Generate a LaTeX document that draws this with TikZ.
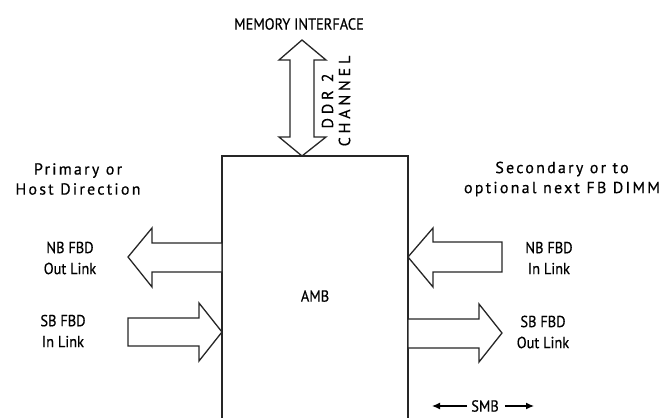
\documentclass[tikz,border=0pt]{standalone}
\usepackage{fontspec}
\usepackage{graphicx}
\setmainfont[FakeBold=0.5]{PT Sans}
\newfontfamily\spacedfont[LetterSpace=14,FakeBold=0.5]{PT Sans}
\newfontfamily\widefont[LetterSpace=24,FakeBold=0.5]{PT Sans}
\usetikzlibrary{arrows.meta}
\newcommand\condtxt[1]{\scalebox{0.9}[1]{#1}}
\begin{document}
\begin{tikzpicture}[x=1pt,y=-1pt,
  outline/.style={draw=black!85, line width=1.3pt, line join=miter},
  fatarrow/.style={draw=black!85, line width=1.3pt, line join=miter, fill=white},
  spacedlbl/.style={align=center, font=\spacedfont\fontsize{16}{20}\selectfont, inner sep=0pt},
  condlbl/.style={align=center, font=\fontsize{16}{21}\selectfont, inner sep=0pt},
  smbarrow/.style={line width=1.2pt, -{Latex[length=8pt,width=7pt]}}]
\useasboundingbox (0,0) rectangle (665,418);
% main AMB box (open at bottom)
\coordinate (boxbl) at (222,418);
\coordinate (boxtl) at (222,156);
\coordinate (boxtr) at (408,156);
\coordinate (boxbr) at (408,418);
\draw[outline] (boxbl) -- (boxtl) -- (boxtr) -- (boxbr);
\node[condlbl] (amb) at (315,296) {\condtxt{AMB}};
% memory interface double arrow
\draw[fatarrow] (302,40) -- (326,60) -- (314,60) -- (314,137) -- (326,137) -- (302,156)
  -- (279,137) -- (290,137) -- (290,60) -- (279,60) -- cycle;
\node[condlbl] (mem) at (299,24) {\condtxt{MEMORY INTERFACE}};
\node[spacedlbl, font=\widefont\fontsize{16}{17}\selectfont, rotate=90] (ddr) at (336,101) {DDR 2\\CHANNEL};
% left arrows
\draw[fatarrow] (222,243) -- (152,243) -- (152,228) -- (128,257) -- (152,287) -- (152,272) -- (222,272) -- cycle;
\draw[fatarrow] (128,318) -- (199,318) -- (199,303) -- (222,332) -- (199,361) -- (199,346) -- (128,346) -- cycle;
% right arrows
\draw[fatarrow] (502,242) -- (433,242) -- (433,228) -- (408,257) -- (433,287) -- (433,272) -- (502,272) -- cycle;
\draw[fatarrow] (408,319) -- (479,319) -- (479,304) -- (502,333) -- (479,362) -- (479,348) -- (408,348) -- cycle;
% labels
\node[spacedlbl] (prim) at (78,179) {Primary or\\Host Direction};
\node[spacedlbl] (sec) at (562,179) {Secondary or to\\optional next FB DIMM};
\node[condlbl] (nbl) at (70,258) {\condtxt{NB FBD}\\\condtxt{Out Link}};
\node[condlbl] (sbl) at (63,331) {\condtxt{SB FBD}\\\condtxt{In Link}};
\node[condlbl] (nbr) at (549,258) {\condtxt{NB FBD}\\\condtxt{In Link}};
\node[condlbl] (sbr) at (543,332) {\condtxt{SB FBD}\\\condtxt{Out Link}};
% SMB
\node[condlbl] (smb) at (485,406) {\condtxt{SMB}};
\coordinate (smbl) at (432,406);
\coordinate (smbr) at (534,406);
\draw[smbarrow] (smb.west) ++(-4,0) -- (smbl);
\draw[smbarrow] (smb.east) ++(6,0) -- (smbr);
\end{tikzpicture}
\end{document}
